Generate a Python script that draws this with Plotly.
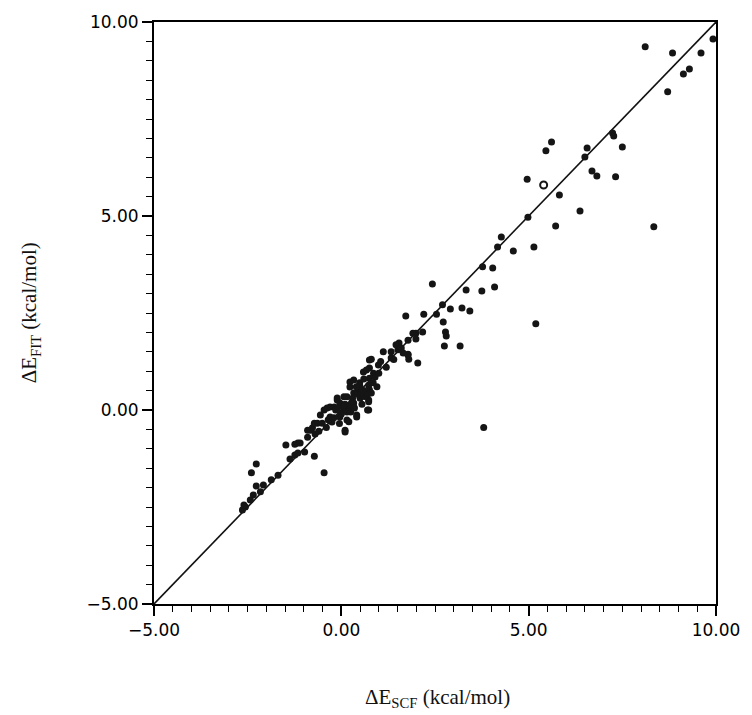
import plotly.graph_objects as go

# Reference line y = x
line_x = [-5, 10]
line_y = [-5, 10]

# Scatter points (ΔE_SCF, ΔE_FIT) in kcal/mol
scf = [
    9.92, 8.11, 8.84, 9.60, 9.29, 9.13, 8.71,
    7.24, 7.27, 7.50, 6.56, 6.50, 5.61, 5.46,
    6.69, 6.82, 7.32, 4.96, 5.82, 6.37, 4.98, 5.72, 8.34,
    4.27, 4.17, 4.59, 5.14, 3.77, 4.04, 2.43, 3.33, 3.75, 4.09,
    2.70, 2.20, 2.54, 2.91, 3.22, 3.43, 5.19, 2.72, 2.17, 2.78, 2.80, 2.75, 3.17, 1.99,
    3.80,
    1.72, 1.99, 1.78, 1.80, 2.04, 1.54, 1.33, 1.12, 0.80, 0.99, 0.75, 0.59, 0.75,
    0.23, 0.49, 0.75, 0.73, 0.73, 0.33, 0.07, -0.11, -0.30, -0.46, 0.07, 0.33, 0.41,
    0.10, -0.64, -0.77, -0.90, -1.16, -1.48, -0.72, -0.46, -0.98, -1.24,
    1.91, 1.78, 1.51, 1.78, 1.46, 1.65, 1.33, 0.75, 0.67, 0.86, 0.73, 0.80, 0.73,
    0.70, 0.33, 0.49, 0.23, 0.41, 0.15, 0.33, -0.04, -0.11, -0.19, 0.41, -0.38,
    -0.30, -0.56, -0.51, -0.72, -0.82, 0.10, -0.25, 0.15, -0.04,
    -1.24, -1.10, -1.16, -1.37, -2.27, -2.40, -1.69, -1.87, -2.08, -2.27,
    -2.16, -2.35, -2.43, -2.56, -2.64, -2.60, -0.90,
    0.20, 0.50, 0.60, 0.00, -0.20, 0.30, 0.50, 0.90, 1.00, 1.20, 0.55, 0.25,
    -0.60, -0.40, -0.15, 0.60, 0.95, 1.05, 1.40, 1.60, 0.40, 0.10, -0.05, 0.20,
    0.45, 0.62, 0.28, 0.05, -0.35, -0.70, 0.85, 0.35, 0.15, -0.10, 0.55, 0.70,
]
fit = [
    9.56, 9.36, 9.20, 9.20, 8.79, 8.66, 8.20,
    7.14, 7.06, 6.78, 6.75, 6.52, 6.91, 6.68,
    6.16, 6.03, 6.01, 5.95, 5.54, 5.13, 4.97, 4.74, 4.72,
    4.46, 4.20, 4.10, 4.20, 3.69, 3.66, 3.25, 3.09, 3.07, 3.17,
    2.71, 2.47, 2.47, 2.60, 2.63, 2.55, 2.22, 2.27, 2.01, 2.01, 1.91, 1.65, 1.65, 1.98,
    -0.45,
    2.42, 1.83, 1.42, 1.31, 1.21, 1.73, 1.50, 1.50, 1.31, 1.16, 1.08, 0.98, 0.82,
    0.72, 0.70, 0.52, 0.26, 0.00, 0.44, 0.34, 0.26, 0.08, 0.00, 0.00, 0.08, -0.18,
    -0.57, -0.34, -0.46, -0.70, -0.85, -0.90, -1.19, -1.62, -1.08, -1.16,
    1.98, 1.80, 1.55, 1.44, 1.68, 1.47, 1.34, 1.29, 1.03, 0.95, 0.64, 0.44, 0.21,
    0.00, 0.77, 0.64, 0.59, 0.44, 0.34, 0.18, 0.18, 0.31, 0.08, -0.13, 0.05,
    -0.18, -0.13, -0.34, -0.34, -0.52, -0.52, -0.31, -0.26, -0.18,
    -0.88, -0.85, -1.11, -1.26, -1.39, -1.62, -1.68, -1.80, -1.93, -1.96,
    -2.11, -2.19, -2.32, -2.50, -2.58, -2.45, -0.52,
    0.10, 0.30, 0.50, -0.10, -0.20, 0.30, 0.55, 0.85, 0.95, 1.10, 0.15, -0.05,
    -0.55, -0.45, 0.00, 0.80, 0.60, 1.25, 1.30, 1.60, 0.60, 0.15, -0.35, -0.30,
    0.40, 0.35, 0.20, 0.10, -0.25, -0.62, 0.70, 0.05, -0.05, 0.05, 0.45, 0.40,
]
# One open-circle point
open_scf = [5.40]
open_fit = [5.80]

fig = go.Figure()
fig.add_trace(go.Scatter(x=line_x, y=line_y, mode="lines",
                         line=dict(color="#111111", width=1.6),
                         hoverinfo="skip", showlegend=False))
fig.add_trace(go.Scatter(x=scf, y=fit, mode="markers",
                         marker=dict(color="#151515", size=7),
                         showlegend=False))
fig.add_trace(go.Scatter(x=open_scf, y=open_fit, mode="markers",
                         marker=dict(color="white", size=7,
                                     line=dict(color="#151515", width=2)),
                         showlegend=False))

fig.update_layout(
    template="simple_white",
    width=752, height=715,
    margin=dict(l=154, r=27, t=22, b=111),
    xaxis=dict(range=[-5, 10], dtick=5, tickformat=".2f",
               ticks="outside", ticklen=10, tickwidth=2, tickcolor="black",
               showline=True, mirror=True, linecolor="black", linewidth=2,
               tickfont=dict(family="DejaVu Sans", size=17, color="black"),
               minor=dict(dtick=0.5, ticks="outside", ticklen=6, tickwidth=1,
                          tickcolor="black")),
    yaxis=dict(range=[-5, 10], dtick=5, tickformat=".2f",
               ticks="outside", ticklen=10, tickwidth=2, tickcolor="black",
               showline=True, mirror=True, linecolor="black", linewidth=2,
               tickfont=dict(family="DejaVu Sans", size=17, color="black"),
               minor=dict(dtick=0.5, ticks="outside", ticklen=6, tickwidth=1,
                          tickcolor="black")),
    annotations=[
        dict(text="\u0394E<sub>SCF</sub> (kcal/mol)", xref="paper", yref="paper",
             x=0.505, y=-0.135, xanchor="center", yanchor="top", showarrow=False,
             font=dict(family="Liberation Serif", size=21, color="#111111")),
        dict(text="\u0394E<sub>FIT</sub> (kcal/mol)", xref="paper", yref="paper",
             x=-0.22, y=0.5, xanchor="center", yanchor="middle", showarrow=False,
             textangle=-90,
             font=dict(family="Liberation Serif", size=21, color="#111111")),
    ],
)

fig.write_html("out.html")
